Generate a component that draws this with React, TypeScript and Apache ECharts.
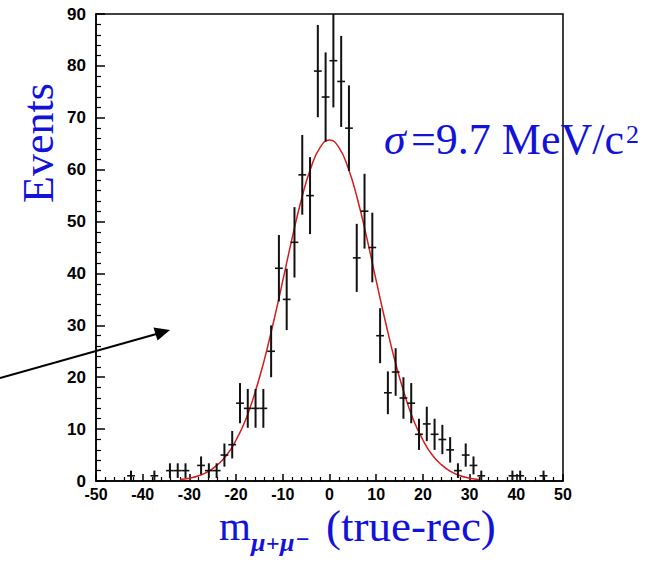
import React, { useEffect, useRef } from "react";
import * as echarts from "echarts";

// Histogram: 60 bins from -50 to 50 (bin width 100/60)
const X_MIN = -50;
const X_MAX = 50;
const N_BINS = 60;
const binCounts = [
  0, 0, 0, 0, 1, 0, 0, 1, 0, 2,
  2, 2, 0, 3, 2, 2, 5, 7, 15, 14,
  14, 14, 25, 41, 35, 46, 59, 55, 79, 74,
  81, 77, 68, 43, 52, 45, 28, 17, 21, 16,
  15, 9, 11, 9, 8, 6, 2, 5, 3, 1,
  0, 0, 0, 1, 1, 0, 0, 1, 0, 0,
];

// Gaussian fit curve
const fitX = [-32, -30, -28, -26, -24, -22, -20, -18, -16, -14, -12, -10, -8, -6, -4, -2, 0, 2, 4, 6, 8, 10, 12, 14, 16, 18, 20, 22, 24, 26, 28, 30, 32];
const fitY = [0.3, 0.55, 1.0, 1.8, 3.1, 5.0, 7.9, 11.7, 16.9, 23.2, 30.6, 38.6, 46.8, 54.3, 60.3, 64.3, 65.7, 64.3, 60.3, 54.3, 46.8, 38.6, 30.6, 23.2, 16.9, 11.7, 7.9, 5.0, 3.1, 1.8, 1.0, 0.55, 0.3];

const Y_MAX = 90;
const BLUE = "#1212d8";
const SERIF = "'Liberation Serif', 'Times New Roman', serif";
const SANS = "'Liberation Sans', Arial, sans-serif";

export default function App() {
  const ref = useRef<HTMLDivElement>(null);
  useEffect(() => {
    if (!ref.current) return;
    const chart = echarts.init(ref.current, undefined, { renderer: "svg" });
    const binW = (X_MAX - X_MIN) / N_BINS;
    const points: number[][] = [];
    binCounts.forEach((n, i) => {
      if (n > 0) points.push([X_MIN + (i + 0.5) * binW, n]);
    });
    const axisLineStyle = { color: "#000", width: 1.5 };
    const t = (text: string, x: number, y: number, size: number, extra: any = {}) => ({
      type: "text",
      x,
      y,
      style: { text, fontFamily: SERIF, fontSize: size, fill: BLUE, align: "left", verticalAlign: "middle", lineHeight: Math.round(size * 0.6), ...extra },
    });
    chart.setOption({
      animation: false,
      backgroundColor: "#fff",
      grid: {
        left: 96,
        right: 95,
        top: 14,
        bottom: 82,
        show: true,
        borderColor: "#000",
        borderWidth: 1.5,
        backgroundColor: "transparent",
      },
      xAxis: {
        type: "value",
        min: X_MIN,
        max: X_MAX,
        interval: 10,
        axisLine: { show: true, onZero: false, lineStyle: axisLineStyle },
        axisTick: { show: true, inside: true, length: 7, lineStyle: axisLineStyle },
        minorTick: { show: true, splitNumber: 5, length: 4, lineStyle: { color: "#000", width: 1.2 } },
        axisLabel: { color: "#000", fontFamily: SANS, fontWeight: "bold", fontSize: 16, lineHeight: 14, margin: 6 },
        splitLine: { show: false },
      },
      yAxis: {
        type: "value",
        min: 0,
        max: Y_MAX,
        interval: 10,
        axisLine: { show: true, onZero: false, lineStyle: axisLineStyle },
        axisTick: { show: true, inside: true, length: 9, lineStyle: axisLineStyle },
        minorTick: { show: true, splitNumber: 5, length: 5, lineStyle: { color: "#000", width: 1.2 } },
        axisLabel: { color: "#000", fontFamily: SANS, fontWeight: "bold", fontSize: 17, margin: 10 },
        splitLine: { show: false },
      },
      series: [
        {
          type: "line",
          data: fitX.map((x, i) => [x, fitY[i]]),
          smooth: true,
          showSymbol: false,
          lineStyle: { color: "#d41c1c", width: 1.5 },
          z: 2,
        },
        {
          type: "custom",
          data: points,
          encode: { x: 0, y: 1 },
          z: 3,
          renderItem: (params: any, api: any) => {
            const x = api.value(0);
            const n = api.value(1);
            const e = Math.sqrt(n);
            const top = Math.min(n + e, Y_MAX);
            const bot = Math.max(n - e, 0);
            const pT = api.coord([x, top]);
            const pB = api.coord([x, bot]);
            const pL = api.coord([x - binW / 2, n]);
            const pR = api.coord([x + binW / 2, n]);
            return {
              type: "group",
              children: [
                { type: "line", shape: { x1: pT[0], y1: pT[1], x2: pB[0], y2: pB[1] }, style: { stroke: "#111", lineWidth: 2 } },
                { type: "line", shape: { x1: pL[0], y1: pL[1], x2: pR[0], y2: pR[1] }, style: { stroke: "#111", lineWidth: 1.6 } },
              ],
            };
          },
        },
      ],
      graphic: [
        {
          type: "text",
          x: 38,
          y: 143,
          rotation: Math.PI / 2,
          style: { text: "Events", fontFamily: SERIF, fontSize: 44, fill: BLUE, align: "center", verticalAlign: "middle" },
        },
        t("σ", 384, 139, 44, { fontStyle: "italic" }),
        t("=9.7 MeV/c", 411, 139, 44),
        t("2", 626, 134, 26),
        t("m", 219, 526, 41),
        t("μ", 251, 542, 26, { fontStyle: "italic", fontWeight: "bold" }),
        t("+", 266, 543, 24, { fontWeight: "bold" }),
        t("μ", 280, 542, 26, { fontStyle: "italic", fontWeight: "bold" }),
        t("−", 296, 539, 24, { fontWeight: "bold" }),
        t("(true-rec)", 326, 526, 45),
        { type: "line", shape: { x1: 0, y1: 378, x2: 160, y2: 333 }, style: { stroke: "#000", lineWidth: 2 } },
        { type: "polygon", shape: { points: [[170, 330], [153.5, 327.5], [157.5, 340.5]] }, style: { fill: "#000" } },
      ],
    });
    return () => chart.dispose();
  }, []);
  return <div ref={ref} style={{ position: "fixed", left: 0, top: 0, width: 658, height: 563 }} />;
}
